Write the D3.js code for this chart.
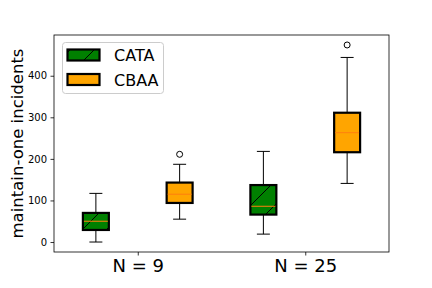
<!DOCTYPE html>
<html>
<head>
<meta charset="utf-8">
<script src="https://cdn.jsdelivr.net/npm/d3@7"></script>
<style>
  html, body { margin: 0; padding: 0; background: #fff; }
  svg { display: block; font-family: "DejaVu Sans", sans-serif; }
</style>
</head>
<body>
<svg id="chart" width="432" height="288"></svg>
<script>
// ---- data ----
const groups = ["N = 9", "N = 25"];
const seriesNames = ["CATA", "CBAA"];
const seriesColors = ["green", "orange"];
// [whiskerLow, q1, median, q3, whiskerHigh]
const cataStats = [[0, 29, 50, 70, 117], [19, 66, 86, 137, 218]];
const cbaaStats = [[55, 94, 115, 143, 187], [141, 216, 263, 311, 444]];
const cataOutliers = [[], []];
const cbaaOutliers = [[211], [474]];
const yTicks = [0, 100, 200, 300, 400];

const svg = d3.select("#chart");
const m = { left: 54, right: 389, top: 35, bottom: 252 };

const x = d3.scaleLinear().domain([0.5, 2.5]).range([m.left, m.right]);
const y = d3.scaleLinear().domain([-24, 498]).range([m.bottom, m.top]);

// hatch pattern
const defs = svg.append("defs");
const pat = defs.append("pattern")
  .attr("id", "hatch").attr("patternUnits", "userSpaceOnUse")
  .attr("width", 24).attr("height", 24);
pat.append("rect").attr("width", 24).attr("height", 24).attr("fill", "green");
pat.append("path").attr("d", "M0,24 L24,0 M-6,6 L6,-6 M18,30 L30,18")
  .attr("stroke", "black").attr("stroke-width", 1);

const series = [
  { name: seriesNames[0], stats: cataStats, outliers: cataOutliers, fill: "url(#hatch)", offset: -0.25 },
  { name: seriesNames[1], stats: cbaaStats, outliers: cbaaOutliers, fill: seriesColors[1], offset: 0.25 }
];
const boxW = 0.155;

const plot = svg.append("g");
series.forEach(s => {
  s.stats.forEach((st, i) => {
    const cx = x(i + 1 + s.offset);
    const hw = (x(boxW) - x(0)) / 2;
    const [lo, q1, med, q3, hi] = st;
    const g = plot.append("g");
    // whiskers
    g.append("line").attr("x1", cx).attr("x2", cx).attr("y1", y(q1)).attr("y2", y(lo)).attr("stroke", "black").attr("stroke-width", 1);
    g.append("line").attr("x1", cx).attr("x2", cx).attr("y1", y(q3)).attr("y2", y(hi)).attr("stroke", "black").attr("stroke-width", 1);
    // caps
    [lo, hi].forEach(v => g.append("line").attr("x1", cx - hw / 2).attr("x2", cx + hw / 2)
      .attr("y1", y(v)).attr("y2", y(v)).attr("stroke", "black").attr("stroke-width", 1));
    // box
    g.append("rect").attr("x", cx - hw).attr("y", y(q3)).attr("width", 2 * hw).attr("height", y(q1) - y(q3))
      .attr("fill", s.fill).attr("stroke", "black").attr("stroke-width", 2.2);
    // median
    g.append("line").attr("x1", cx - hw + 1).attr("x2", cx + hw - 1).attr("y1", y(med)).attr("y2", y(med))
      .attr("stroke", "#ff7f0e").attr("stroke-width", 1);
    // outliers
    s.outliers[i].forEach(v => g.append("circle").attr("cx", cx).attr("cy", y(v)).attr("r", 3)
      .attr("fill", "none").attr("stroke", "black").attr("stroke-width", 1));
  });
});

// axes
const yAxis = d3.axisLeft(y).tickValues(yTicks).tickSize(3.5).tickPadding(3.5);
const gy = svg.append("g").attr("transform", `translate(${m.left},0)`).call(yAxis);
gy.select(".domain").remove();
gy.selectAll("text").attr("font-size", 10).attr("fill", "#000").attr("font-family", "DejaVu Sans");
gy.selectAll("line").attr("stroke", "#000").attr("stroke-width", 0.8);

const xAxis = d3.axisBottom(x).tickValues([1, 2]).tickFormat((d, i) => groups[i]).tickSize(3.5).tickPadding(3.5);
const gx = svg.append("g").attr("transform", `translate(0,${m.bottom})`).call(xAxis);
gx.select(".domain").remove();
gx.selectAll("text").attr("font-size", 18).attr("fill", "#000").attr("font-family", "DejaVu Sans");
gx.selectAll("line").attr("stroke", "#000").attr("stroke-width", 0.8);

// frame
svg.append("rect").attr("x", m.left).attr("y", m.top).attr("width", m.right - m.left).attr("height", m.bottom - m.top)
  .attr("fill", "none").attr("stroke", "#000").attr("stroke-width", 0.8);

// y label
svg.append("text").attr("transform", `translate(22.5,${(m.top + m.bottom) / 2}) rotate(-90)`)
  .attr("text-anchor", "middle").attr("font-size", 16.5).attr("fill", "#000").text("maintain-one incidents");

// legend
const lg = svg.append("g");
lg.append("rect").attr("x", 62.5).attr("y", 42.5).attr("width", 101).attr("height", 51).attr("rx", 3)
  .attr("fill", "white").attr("fill-opacity", 0.8).attr("stroke", "#ccc").attr("stroke-width", 1);
series.forEach((s, i) => {
  const yy = 49.5 + i * 24.5;
  lg.append("rect").attr("x", 67.5).attr("y", yy).attr("width", 32).attr("height", 11)
    .attr("fill", s.fill).attr("stroke", "black").attr("stroke-width", 2.2);
  lg.append("text").attr("x", 114).attr("y", yy + 11.5).attr("font-size", 16).attr("fill", "#000").text(s.name);
});
</script>
</body>
</html>
